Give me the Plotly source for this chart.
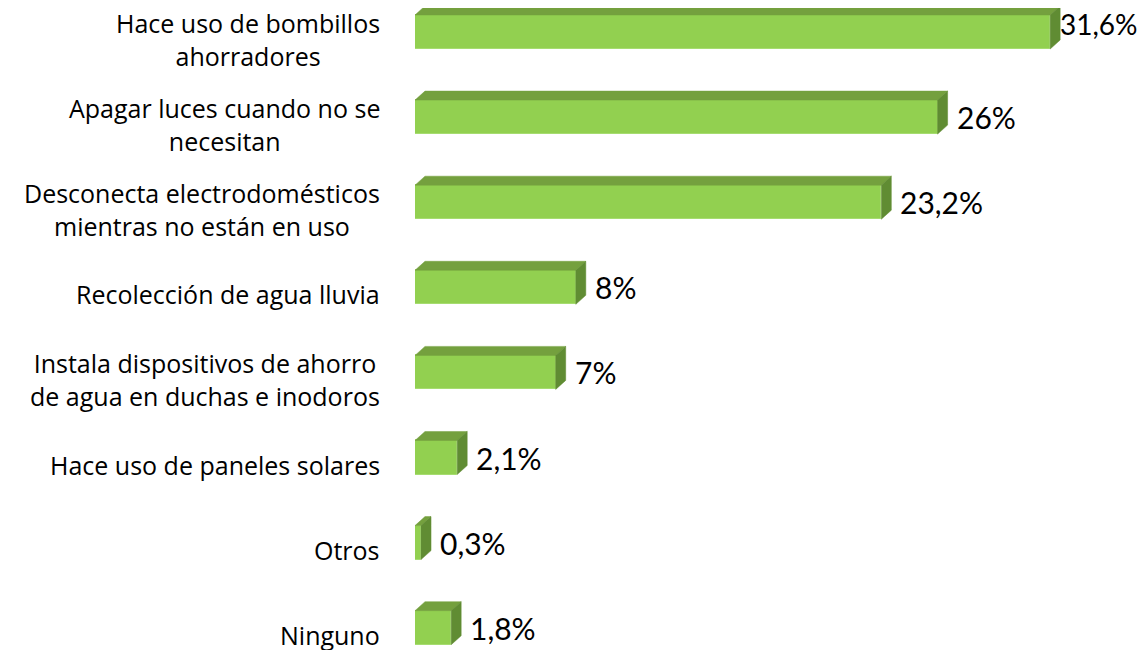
import plotly.graph_objects as go

categories = [
    "Hace uso de bombillos<br>ahorradores",
    "Apagar luces cuando no se<br>necesitan",
    "Desconecta electrodomésticos<br>mientras no están en uso",
    "Recolección de agua lluvia",
    "Instala dispositivos de ahorro<br>de agua en duchas e inodoros",
    "Hace uso de paneles solares",
    "Otros",
    "Ninguno",
]
values = [31.6, 26, 23.2, 8, 7, 2.1, 0.3, 1.8]
value_labels = ["31,6%", "26%", "23,2%", "8%", "7%", "2,1%", "0,3%", "1,8%"]

PAGE_OFF = 8  # default body margin of the html page
W, H = 1148 - 2 * PAGE_OFF, 650 - PAGE_OFF
ML = 415 - PAGE_OFF
PX_PER_UNIT_X = 20.1
PX_PER_CAT = 85.1
X_MAX = (W - ML) / PX_PER_UNIT_X
Y_TOP = -(32 - PAGE_OFF) / PX_PER_CAT
Y_BOT = Y_TOP + H / PX_PER_CAT
BAR_W = 0.4
DEPTH_X = 10 / PX_PER_UNIT_X
DEPTH_Y = 9 / PX_PER_CAT

FRONT = "#92D050"
TOP = "#74A03E"
SIDE = "#608C33"

pos = list(range(len(categories)))

fig = go.Figure()

tx, ty, sx, sy = [], [], [], []
for i, v in zip(pos, values):
    t = i - BAR_W / 2
    b = i + BAR_W / 2
    tx += [0, v, v + DEPTH_X, DEPTH_X, 0, None]
    ty += [t, t, t - DEPTH_Y, t - DEPTH_Y, t, None]
    sx += [v, v + DEPTH_X, v + DEPTH_X, v, v, None]
    sy += [t, t - DEPTH_Y, b - DEPTH_Y, b, t, None]

fig.add_trace(go.Scatter(x=tx, y=ty, fill="toself", fillcolor=TOP, mode="lines",
                         line=dict(color=TOP, width=0.5), hoverinfo="skip", showlegend=False))
fig.add_trace(go.Scatter(x=sx, y=sy, fill="toself", fillcolor=SIDE, mode="lines",
                         line=dict(color=SIDE, width=0.5), hoverinfo="skip", showlegend=False))
fig.add_trace(go.Bar(x=values, y=pos, orientation="h", width=BAR_W,
                     marker=dict(color=FRONT, line=dict(color="#A6DC70", width=1)),
                     showlegend=False, hoverinfo="skip"))

label_font = dict(family="'Open Sans', sans-serif", size=25, color="#000000")
FONT_VAL = "Lato, 'Open Sans', sans-serif"

value_size = [28, 30, 30, 30, 30, 30, 30, 30]
value_dx = [8, 17, 17, 17, 17, 17, 17, 17]
value_dy = [8, 0, 0, 0, 0, 0, 0, 0]

for i, (c, v, vl) in enumerate(zip(categories, values, value_labels)):
    fig.add_annotation(x=0, y=i, text=c, xanchor="right", yanchor="middle",
                       align="center", xshift=-33, yshift=-7, showarrow=False,
                       font=label_font)
    fig.add_annotation(x=v, y=i, text=vl, xanchor="left", yanchor="middle",
                       align="left", xshift=value_dx[i], yshift=value_dy[i], showarrow=False,
                       font=dict(family=FONT_VAL, size=value_size[i], color="#000000"))

fig.update_layout(
    width=W, height=H,
    margin=dict(l=ML, r=0, t=0, b=0),
    paper_bgcolor="white", plot_bgcolor="white",
    xaxis=dict(range=[0, X_MAX], visible=False, fixedrange=True),
    yaxis=dict(range=[Y_BOT, Y_TOP], visible=False, fixedrange=True),
    bargap=0,
)

fig.write_html("out.html")
